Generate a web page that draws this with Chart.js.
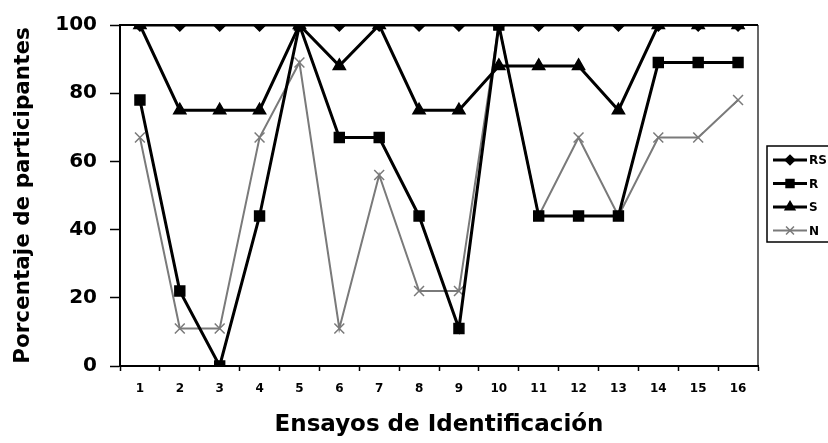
<!DOCTYPE html>
<html>
<head>
<meta charset="utf-8">
<script src="https://cdn.jsdelivr.net/npm/chart.js@4.4.0/dist/chart.umd.min.js"></script>
<style>
  html, body { margin: 0; padding: 0; background: #fff; }
  #wrap { width: 828px; height: 443px; }
</style>
</head>
<body>
<div id="wrap"><canvas id="chart" width="828" height="443"></canvas></div>
<script>
const ensayos = ['1', '2', '3', '4', '5', '6', '7', '8', '9', '10', '11', '12', '13', '14', '15', '16'];
const rsValues = [100, 100, 100, 100, 100, 100, 100, 100, 100, 100, 100, 100, 100, 100, 100, 100];
const rValues = [78, 22, 0, 44, 100, 67, 67, 44, 11, 100, 44, 44, 44, 89, 89, 89];
const sValues = [100, 75, 75, 75, 100, 88, 100, 75, 75, 88, 88, 88, 75, 100, 100, 100];
const nValues = [67, 11, 11, 67, 89, 11, 56, 22, 22, 100, 44, 67, 44, 67, 67, 78];
const yTicks = [0, 20, 40, 60, 80, 100];

const FONT = "'DejaVu Sans', Arial, sans-serif";

// plot frame: top and right border lines
const frame = {
    id: 'frame',
    afterDraw(chart) {
        const { ctx, chartArea: a } = chart;
        ctx.save();
        ctx.strokeStyle = '#000';
        ctx.lineWidth = 2;
        ctx.beginPath();
        ctx.moveTo(a.left, a.top);
        ctx.lineTo(a.right, a.top);
        ctx.stroke();
        ctx.lineWidth = 1.2;
        ctx.beginPath();
        ctx.moveTo(a.right, a.top);
        ctx.lineTo(a.right, a.bottom);
        ctx.stroke();
        ctx.restore();
    }
};

// legend with line + marker, like the original
const sideLegend = {
    id: 'sideLegend',
    afterDraw(chart) {
        const ctx = chart.ctx;
        const x0 = 767, y0 = 146, w = 70, h = 96;
        ctx.save();
        ctx.strokeStyle = '#000';
        ctx.lineWidth = 1.5;
        ctx.strokeRect(x0, y0, w, h);
        chart.data.datasets.forEach((ds, i) => {
            const y = 160 + i * 23.5;
            ctx.strokeStyle = ds.borderColor;
            ctx.lineWidth = ds.borderWidth;
            ctx.beginPath();
            ctx.moveTo(773, y);
            ctx.lineTo(807, y);
            ctx.stroke();
            ctx.fillStyle = ds.pointBackgroundColor;
            ctx.strokeStyle = ds.pointBorderColor;
            ctx.lineWidth = 1.5;
            Chart.helpers.drawPoint(ctx, {
                pointStyle: ds.pointStyle,
                radius: ds.pointRadius * 0.8,
                rotation: 0,
                borderWidth: 1.5
            }, 790, y);
            ctx.fillStyle = '#000';
            ctx.font = 'bold 12px ' + FONT;
            ctx.textBaseline = 'middle';
            ctx.fillText(ds.label, 809, y + 1);
        });
        ctx.restore();
    }
};

function serie(label, data, style, radius, color, width) {
    return {
        label: label,
        data: data,
        borderColor: color,
        borderWidth: width,
        pointStyle: style,
        pointRadius: radius,
        pointBackgroundColor: color,
        pointBorderColor: color,
        pointBorderWidth: 1.5,
        tension: 0
    };
}

new Chart(document.getElementById('chart'), {
    type: 'line',
    data: {
        labels: ensayos,
        datasets: [
            serie('RS', rsValues, 'rectRot', 6, '#000', 3),
            serie('R', rValues, 'rect', 7, '#000', 3),
            serie('S', sValues, 'triangle', 7, '#000', 3),
            serie('N', nValues, 'crossRot', 7, '#7a7a7a', 2)
        ]
    },
    options: {
        responsive: false,
        animation: false,
        layout: { padding: { top: 23, right: 70, left: 0, bottom: 0 } },
        plugins: {
            legend: { display: false },
            tooltip: { enabled: false }
        },
        scales: {
            x: {
                offset: true,
                grid: { offset: true, drawOnChartArea: false, tickLength: 5, tickColor: '#000', tickWidth: 1.5 },
                border: { display: true, color: '#000', width: 2 },
                ticks: { color: '#000', padding: 11, maxRotation: 0, font: { family: FONT, size: 12, weight: 'bold' } },
                title: {
                    display: true,
                    text: 'Ensayos de Identificación',
                    color: '#000',
                    padding: { top: 0, bottom: 4 },
                    font: { family: FONT, size: 23, weight: 'bold' }
                },
                afterFit(scale) { scale.height = 77; }
            },
            y: {
                min: 0,
                max: 100,
                afterBuildTicks(scale) { scale.ticks = yTicks.map(v => ({ value: v })); },
                grid: { drawOnChartArea: false, tickLength: 10, tickColor: '#000', tickWidth: 1.5 },
                border: { display: true, color: '#000', width: 2 },
                ticks: { color: '#000', padding: 13, font: { family: FONT, size: 20, weight: 'bold' } },
                title: {
                    display: true,
                    text: 'Porcentaje de participantes',
                    color: '#000',
                    padding: { top: 11, bottom: 0 },
                    font: { family: FONT, size: 21.5, weight: 'bold' }
                },
                afterFit(scale) { scale.width = 120; }
            }
        }
    },
    plugins: [frame, sideLegend]
});
</script>
</body>
</html>
